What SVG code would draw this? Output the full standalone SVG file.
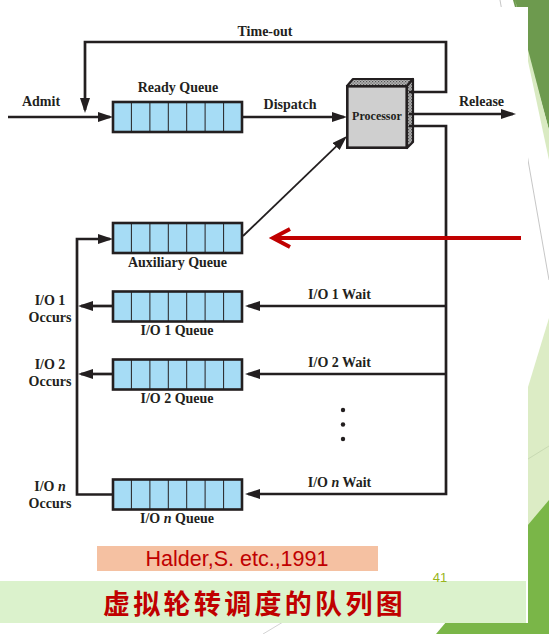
<svg xmlns="http://www.w3.org/2000/svg" width="549" height="634" viewBox="0 0 549 634">
<defs>
<style>
.lbl{font-family:"Liberation Serif","Times New Roman",serif;font-weight:bold;font-size:14px;fill:#231f20;text-anchor:middle}
.q{fill:#a6dcf5;stroke:#231f20;stroke-width:2.6}
.div{fill:none;stroke:#231f20;stroke-width:1}
.ln{fill:none;stroke:#231f20;stroke-width:2.7;stroke-linejoin:miter}
.thin{fill:none;stroke:#231f20;stroke-width:1.8}
</style>
<marker id="ah" markerUnits="userSpaceOnUse" markerWidth="16" markerHeight="10" refX="12" refY="5" orient="auto">
<path d="M0,0 L15,5 L0,10 z" fill="#231f20"/>
</marker>
<pattern id="stip" width="3" height="3" patternUnits="userSpaceOnUse">
<rect width="3" height="3" fill="#b2b2b2"/>
<rect x="0" y="0" width="1.2" height="1.2" fill="#555"/>
<rect x="1.5" y="1.5" width="1.2" height="1.2" fill="#666"/>
</pattern>
</defs>

<g id="background">
<rect x="0" y="0" width="549" height="634" fill="#ffffff"/>
<polygon points="513,0 549,0 549,130" fill="#6d9a4e"/>
<polygon points="515,0 549,130 549,160" fill="#d9eac2"/>
<line x1="500" y1="0" x2="549" y2="280" stroke="#b8b8b8" stroke-width="0.8"/>
<polygon points="549,318 518,420 518,634 549,634" fill="#dcecc5"/>
<line x1="528" y1="459" x2="549" y2="446" stroke="#c3d4ad" stroke-width="0.8"/>
<polygon points="549,500 436,634 549,634" fill="#7ab648"/>
<line x1="283" y1="622" x2="263" y2="634" stroke="#c8c8c8" stroke-width="0.8"/>
<rect x="0" y="7" width="528" height="616" fill="#ffffff"/>
</g>

<g id="ready-queue">
<rect class="q" x="113" y="102" width="129" height="30"/>
<path class="div" d="M131.4,102V132M149.9,102V132M168.3,102V132M186.7,102V132M205.1,102V132M223.6,102V132"/>
<text class="lbl" x="178" y="92">Ready Queue</text>
</g>

<g id="auxiliary-queue">
<rect class="q" x="113" y="223" width="129" height="30"/>
<path class="div" d="M131.4,223V253M149.9,223V253M168.3,223V253M186.7,223V253M205.1,223V253M223.6,223V253"/>
<text class="lbl" x="177.5" y="267">Auxiliary Queue</text>
</g>

<g id="io1-queue">
<rect class="q" x="113" y="291.5" width="129" height="30"/>
<path class="div" d="M131.4,291.5V321.5M149.9,291.5V321.5M168.3,291.5V321.5M186.7,291.5V321.5M205.1,291.5V321.5M223.6,291.5V321.5"/>
<text class="lbl" x="177" y="335">I/O 1 Queue</text>
</g>

<g id="io2-queue">
<rect class="q" x="113" y="359.5" width="129" height="30"/>
<path class="div" d="M131.4,359.5V389.5M149.9,359.5V389.5M168.3,359.5V389.5M186.7,359.5V389.5M205.1,359.5V389.5M223.6,359.5V389.5"/>
<text class="lbl" x="177" y="403">I/O 2 Queue</text>
</g>

<g id="ion-queue">
<rect class="q" x="113" y="479.5" width="129" height="30"/>
<path class="div" d="M131.4,479.5V509.5M149.9,479.5V509.5M168.3,479.5V509.5M186.7,479.5V509.5M205.1,479.5V509.5M223.6,479.5V509.5"/>
<text class="lbl" x="177" y="523">I/O <tspan font-style="italic">n</tspan> Queue</text>
</g>

<g id="processor">
<polygon points="347,86 353,79 413,79 407,86" fill="url(#stip)" stroke="#231f20" stroke-width="2.2" stroke-linejoin="round"/>
<polygon points="407,86 413,79 413,142 407,148" fill="url(#stip)" stroke="#231f20" stroke-width="2.2" stroke-linejoin="round"/>
<rect x="347.3" y="86.3" width="59.4" height="61.4" fill="#cfcfcf" stroke="#231f20" stroke-width="2.6"/>
<text x="377" y="120" font-family="Liberation Serif, Times New Roman, serif" font-weight="bold" font-size="12" fill="#231f20" text-anchor="middle">Processor</text>
</g>

<g id="connectors">
<path class="ln" d="M8,117 L110,117" marker-end="url(#ah)"/>
<path class="ln" d="M409,92 L446,92 L446,42 L85,42 L85,110" marker-end="url(#ah)"/>
<path class="ln" d="M242,117 L344,117" marker-end="url(#ah)"/>
<path class="ln" d="M409,114 L513,114" marker-end="url(#ah)"/>
<path class="thin" d="M243,236 L344.8,138.1" marker-end="url(#ah)"/>
<path class="ln" d="M409,126 L446,126 L446,494 L248,494" marker-end="url(#ah)"/>
<path class="ln" d="M446,306 L248,306" marker-end="url(#ah)"/>
<path class="ln" d="M446,374 L248,374" marker-end="url(#ah)"/>
<path class="ln" d="M113,494.5 L77,494.5 L77,239 L110,239" marker-end="url(#ah)"/>
<path class="ln" d="M113,306 L81,306" marker-end="url(#ah)"/>
<path class="ln" d="M113,374 L81,374" marker-end="url(#ah)"/>
<path d="M521,238 L274,238 M290,229 L273,238 L290,247" fill="none" stroke="#c00000" stroke-width="4"/>
</g>

<g id="labels">
<text class="lbl" x="265" y="36">Time-out</text>
<text class="lbl" x="41" y="106">Admit</text>
<text class="lbl" x="290" y="109">Dispatch</text>
<text class="lbl" x="481.5" y="106">Release</text>
<text class="lbl" x="339.5" y="299">I/O 1 Wait</text>
<text class="lbl" x="339.5" y="367">I/O 2 Wait</text>
<text class="lbl" x="339.5" y="487">I/O <tspan font-style="italic">n</tspan> Wait</text>
<text class="lbl" x="50" y="305">I/O 1</text>
<text class="lbl" x="50" y="322">Occurs</text>
<text class="lbl" x="50" y="369">I/O 2</text>
<text class="lbl" x="50" y="386">Occurs</text>
<text class="lbl" x="50" y="491">I/O <tspan font-style="italic">n</tspan></text>
<text class="lbl" x="50" y="508">Occurs</text>
<circle cx="343" cy="410" r="2.2" fill="#231f20"/>
<circle cx="343" cy="424.5" r="2.2" fill="#231f20"/>
<circle cx="343" cy="439" r="2.2" fill="#231f20"/>
</g>

<g id="citation">
<rect x="97" y="546" width="281" height="25" fill="#f5c1a2"/>
<text x="237" y="566" font-family="Liberation Sans, Arial, sans-serif" font-size="21.5" fill="#c00000" text-anchor="middle">Halder,S. etc.,1991</text>
</g>

<g id="title">
<rect x="0" y="581" width="526" height="42" fill="#dbf2cc"/>
<text x="103" y="614" font-family="Noto Sans CJK SC, sans-serif" font-weight="bold" font-size="27" letter-spacing="3.3" fill="#c00000">虚拟轮转调度的队列图</text>
<text x="440" y="582" font-family="Liberation Sans, Arial, sans-serif" font-size="13" fill="#98b51c" text-anchor="middle">41</text>
</g>
</svg>
